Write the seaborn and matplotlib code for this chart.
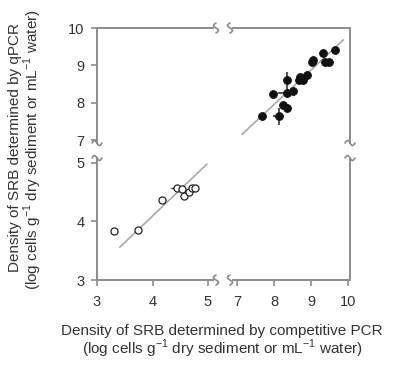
import numpy as np
import pandas as pd
import matplotlib
matplotlib.use("Agg")
import matplotlib.pyplot as plt
import seaborn as sns

# sediment samples (filled) - log cells
sed_x = [7.67, 7.96, 8.12, 8.34, 8.34, 8.25, 8.34, 8.52, 8.66, 8.70, 8.79, 8.88, 9.02, 9.06, 9.33, 9.38, 9.47, 9.65]
sed_y = [7.63, 8.24, 7.63, 8.61, 8.27, 7.95, 7.87, 8.30, 8.62, 8.70, 8.62, 8.75, 9.10, 9.15, 9.32, 9.10, 9.10, 9.41]
sed_xerr = [0, 0, 0.14, 0, 0.24, 0, 0, 0, 0, 0, 0, 0, 0, 0, 0, 0, 0, 0]
sed_yerr = [0, 0, 0.24, 0.2, 0.15, 0, 0, 0, 0, 0, 0, 0, 0, 0, 0, 0, 0, 0]

# water samples (open) - log cells
wat_x = [3.31, 3.73, 4.18, 4.44, 4.56, 4.53, 4.65, 4.71, 4.77]
wat_y = [3.83, 3.85, 4.37, 4.57, 4.44, 4.55, 4.51, 4.57, 4.58]
wat_xerr = [0, 0, 0, 0.1, 0, 0, 0, 0, 0]

# regression line pieces
fit_hi_x = [7.13, 9.87]
fit_hi_y = [7.15, 9.68]
fit_lo_x = [3.41, 4.98]
fit_lo_y = [3.56, 4.98]

sns.set_style("ticks")
plt.rcParams['font.family'] = ['Liberation Sans', 'DejaVu Sans']
plt.rcParams['mathtext.fontset'] = 'custom'
plt.rcParams['mathtext.rm'] = 'Liberation Sans'

spine_c = "#8c8c8c"
txt_c = "#333333"
fs = 10.5
fs_lab = 11

fig = plt.figure(figsize=(3.93, 3.67), dpi=100)
W, H = 393.0, 367.0
def box(x0, x1, y0, y1):
    return [x0 / W, 1 - y1 / H, (x1 - x0) / W, (y1 - y0) / H]

ax_tl = fig.add_axes(box(97, 213, 28, 143))
ax_tr = fig.add_axes(box(233, 350, 28, 143))
ax_bl = fig.add_axes(box(97, 213, 158, 280))
ax_br = fig.add_axes(box(233, 350, 158, 280))

xl_left = (3, 5.09)
xl_right = (6.89, 10.05)
yl_top = (6.92, 10)
yl_bot = (3, 5.085)

for ax in [ax_tl, ax_tr, ax_bl, ax_br]:
    ax.set_facecolor("none")
    for s in ax.spines.values():
        s.set_visible(False)
        s.set_color(spine_c)
        s.set_linewidth(1.4)
    ax.tick_params(colors=spine_c, labelcolor=txt_c, labelsize=fs, length=4, width=1.2,
                   direction="out", pad=5)

ax_tl.set_xlim(*xl_left); ax_tl.set_ylim(*yl_top)
ax_tr.set_xlim(*xl_right); ax_tr.set_ylim(*yl_top)
ax_bl.set_xlim(*xl_left); ax_bl.set_ylim(*yl_bot)
ax_br.set_xlim(*xl_right); ax_br.set_ylim(*yl_bot)

ax_tl.spines["top"].set_visible(True); ax_tl.spines["left"].set_visible(True)
ax_tr.spines["top"].set_visible(True); ax_tr.spines["right"].set_visible(True)
ax_bl.spines["bottom"].set_visible(True); ax_bl.spines["left"].set_visible(True)
ax_br.spines["bottom"].set_visible(True); ax_br.spines["right"].set_visible(True)

ax_tl.set_xticks([]); ax_tl.set_yticks([7, 8, 9, 10])
ax_tr.set_xticks([]); ax_tr.set_yticks([])
ax_bl.set_xticks([3, 4, 5]); ax_bl.set_yticks([3, 4, 5])
ax_br.set_xticks([7, 8, 9, 10]); ax_br.set_yticks([])
for ax in [ax_bl, ax_br]:
    ax.tick_params(axis="x", pad=7)

# data
sed = pd.DataFrame({"x": sed_x, "y": sed_y})
wat = pd.DataFrame({"x": wat_x, "y": wat_y})

sns.lineplot(x=fit_hi_x, y=fit_hi_y, ax=ax_tr, color="#a8a8a8", lw=1.2)
sns.lineplot(x=fit_lo_x, y=fit_lo_y, ax=ax_bl, color="#a8a8a8", lw=1.2)

ax_tr.errorbar(sed_x, sed_y, xerr=sed_xerr, yerr=sed_yerr, fmt="none", ecolor="#222", elinewidth=1.1, capsize=0)
ax_bl.errorbar(wat_x, wat_y, xerr=wat_xerr, fmt="none", ecolor="#222", elinewidth=1, capsize=0)
sns.scatterplot(data=sed, x="x", y="y", ax=ax_tr, color="#111111", s=32, edgecolor="#111111", linewidth=0.6, zorder=3)
sns.scatterplot(data=wat, x="x", y="y", ax=ax_bl, facecolor="white", s=26, edgecolor="#222222", linewidth=0.9, zorder=3)

for ax in [ax_tl, ax_tr, ax_bl, ax_br]:
    ax.set_xlabel(""); ax.set_ylabel("")

# break marks
def squiggle(x0, y0, vertical):
    t = np.linspace(-1, 1, 20)
    if vertical:
        xs = x0 + np.sin(t * np.pi) * 2.5
        ys = y0 + t * 5
    else:
        xs = x0 + t * 5
        ys = y0 + np.sin(t * np.pi) * 2.5
    fig.add_artist(plt.Line2D(xs / W, 1 - ys / H, color=spine_c, lw=1.2))

for xb in [216, 230]:
    squiggle(xb, 28, True)
    squiggle(xb, 280, True)
for yb in [143, 158]:
    squiggle(97, yb, False)
    squiggle(350, yb, False)

sup = r"$^{\mathregular{-1}}$"
fig.text(15 / W, 1 - 148 / H, "Density of SRB determined by qPCR", rotation=90,
         ha="center", va="center", fontsize=fs_lab, color=txt_c)
fig.text(33 / W, 1 - 150 / H, "(log cells g" + sup + " dry sediment or mL" + sup + " water)", rotation=90,
         ha="center", va="center", fontsize=fs_lab, color=txt_c)
fig.text(222 / W, 1 - 331 / H, "Density of SRB determined by competitive PCR",
         ha="center", va="center", fontsize=fs_lab, color=txt_c)
fig.text(222 / W, 1 - 349 / H, "(log cells g" + sup + " dry sediment or mL" + sup + " water)",
         ha="center", va="center", fontsize=fs_lab, color=txt_c)

fig.savefig("out.png", dpi=100)
